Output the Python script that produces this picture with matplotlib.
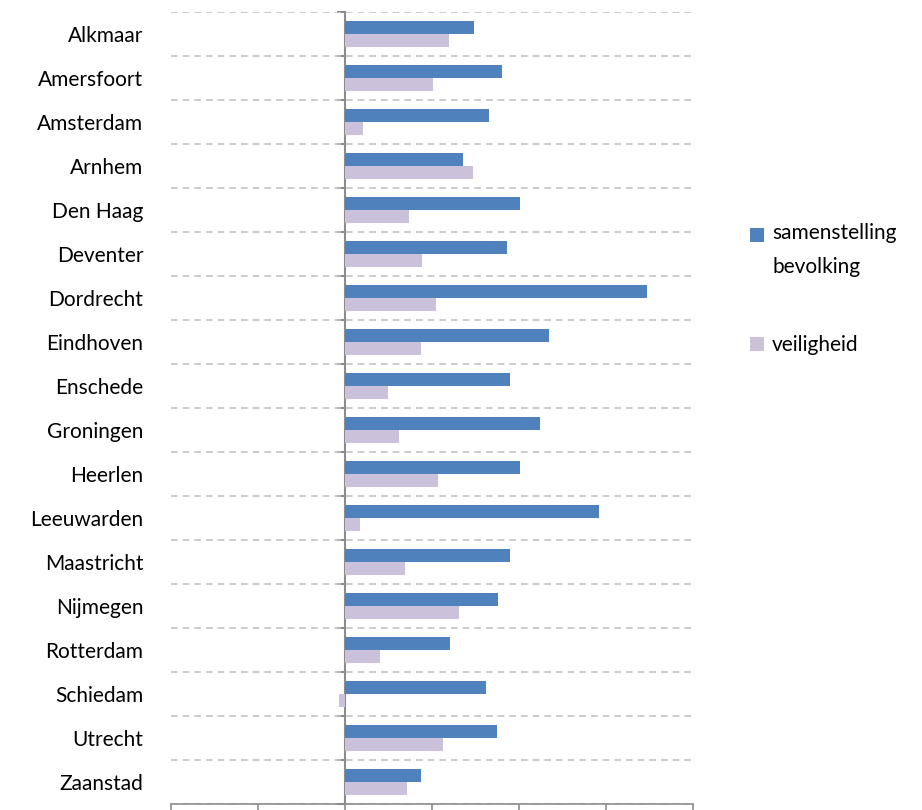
import matplotlib.pyplot as plt
import numpy as np

steden = ["Alkmaar", "Amersfoort", "Amsterdam", "Arnhem", "Den Haag", "Deventer",
          "Dordrecht", "Eindhoven", "Enschede", "Groningen", "Heerlen", "Leeuwarden",
          "Maastricht", "Nijmegen", "Rotterdam", "Schiedam", "Utrecht", "Zaanstad"]
samenstelling = [1.48, 1.80, 1.66, 1.36, 2.01, 1.86, 3.47, 2.34, 1.90, 2.24,
                 2.01, 2.92, 1.90, 1.76, 1.21, 1.62, 1.75, 0.87]
veiligheid = [1.20, 1.01, 0.21, 1.47, 0.74, 0.89, 1.05, 0.87, 0.49, 0.62,
              1.07, 0.17, 0.69, 1.31, 0.40, -0.07, 1.13, 0.71]
x_ticks = [-2, -1, 0, 1, 2, 3, 4]

blauw = "#4F81BD"
paars = "#CCC1DA"
grijs = "#8C8C8C"

plt.rcParams['font.family'] = ['Lato', 'DejaVu Sans']

fig = plt.figure(figsize=(9.22, 8.1), dpi=100)
ax = fig.add_axes([171/922, 6/810, 522/922, 792/810])

n = len(steden)
y = np.arange(n)
h = 0.29
ax.barh(y - h/2, samenstelling, height=h, color=blauw, label="samenstelling\nbevolking", zorder=3)
ax.barh(y + h/2, veiligheid, height=h, color=paars, label="veiligheid", zorder=3)

ax.set_ylim(n - 0.5, -0.5)
ax.set_xlim(x_ticks[0], x_ticks[-1])

# dashed lines between the categories
for b in np.arange(-0.5, n, 1.0):
    ax.axhline(b, color="#C4C4C4", linestyle=(0, (4, 3)), linewidth=1.2, zorder=1)

ax.set_yticks(y)
ax.set_yticklabels(steden, fontsize=15)
ax.tick_params(axis="y", length=0, pad=20)
ax.set_xticks(x_ticks)
ax.set_xticklabels([])
ax.tick_params(axis="x", length=6, color=grijs, width=1.2)

for s in ["left", "right", "top"]:
    ax.spines[s].set_visible(False)
ax.spines["bottom"].set_color(grijs)
ax.spines["bottom"].set_linewidth(1.2)

# vertical axis at zero with ticks between categories
nul = (0 - x_ticks[0]) / (x_ticks[-1] - x_ticks[0])
sec = ax.secondary_yaxis(nul)
sec.set_yticks(np.arange(-0.5, n, 1.0))
sec.set_yticklabels([])
sec.tick_params(length=6, color=grijs, width=1.5)
sec.spines["left"].set_color(grijs)
sec.spines["left"].set_linewidth(1.5)

leg = fig.legend(loc="upper left", bbox_to_anchor=(742/922, 1 - 215/810), frameon=False,
                 fontsize=15, handlelength=0.65, handleheight=0.65, handletextpad=0.4,
                 labelspacing=2.8, borderaxespad=0)
for t in leg.get_texts():
    t.set_linespacing(1.85)
# square next to the first line of the two-line label
r = leg.legend_handles[0]
r.set_y(r.get_y() + 11.5)

fig.patch.set_facecolor('white')
fig.savefig("out.png", dpi=100)
